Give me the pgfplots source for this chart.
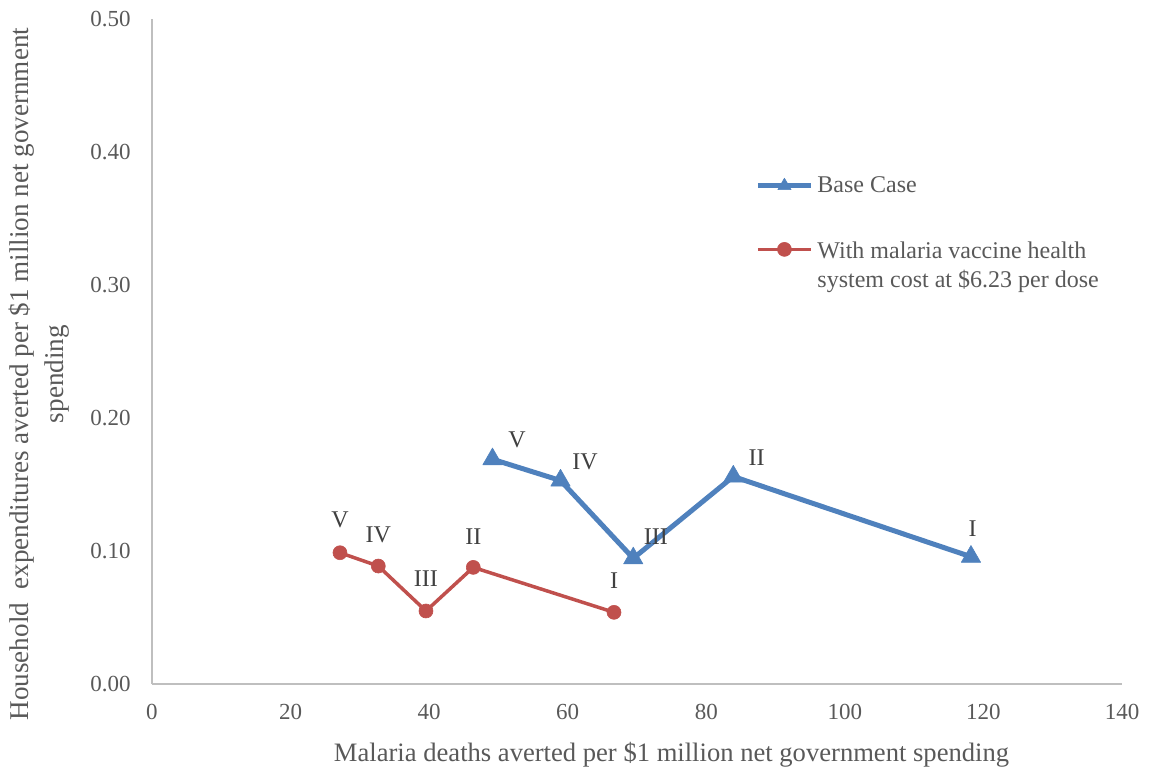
\documentclass[border=0pt]{standalone}
\usepackage{fontspec}
\setmainfont{Liberation Serif}
\usepackage{pgfplots}
\usepackage{pgfplotstable}
\pgfplotsset{compat=1.18}

\definecolor{basecol}{HTML}{4F81BD}
\definecolor{vaccol}{HTML}{C0504D}
\definecolor{axisgray}{HTML}{BFBFBF}
\definecolor{textgray}{HTML}{595959}
\definecolor{labelgray}{HTML}{404040}

\pgfplotsset{
  baseleg/.style={legend image code/.code={
    \draw[##1, mark repeat=2, mark phase=2, mark size=3.8pt]
      plot coordinates {(0pt,0pt) (13.25pt,0pt) (26.5pt,0pt)};}},
  vacleg/.style={legend image code/.code={
    \draw[##1, mark repeat=2, mark phase=2, yshift=8.55pt]
      plot coordinates {(0pt,0pt) (13.25pt,0pt) (26.5pt,0pt)};}},
}

% deaths averted, household expenditures averted, scenario label and label offsets (pt)
\pgfplotstableread{
x      y       lab  dx    dy
49.14  0.169   V    12.25 9.5
58.96  0.153   IV   12.25 9.5
69.46  0.0945  III  11.3  10.8
83.9   0.156   II   11.7  9.2
118.2  0.0957  I    0.8   13.9
}\basetab

\pgfplotstableread{
x      y       lab  dx    dy
27.13  0.0987  V    0     16.3
32.66  0.0887  IV   0     15.5
39.54  0.0549  III  0     16.3
46.37  0.0877  II   0     15.6
66.68  0.0539  I    0     15.8
}\vactab

\begin{document}
\begin{tikzpicture}
\begin{axis}[
  scale only axis,
  width=485pt, height=332.5pt,
  xmin=0, xmax=140, ymin=0, ymax=0.5,
  xtick={0,20,40,60,80,100,120,140},
  ytick={0,0.1,0.2,0.3,0.4,0.5},
  axis x line*=bottom, axis y line*=left,
  axis line style={draw=axisgray, line width=1pt},
  major tick length=0pt,
  /pgf/number format/assume math mode=true,
  ticklabel style={font=\fontsize{11.5}{13.8}\selectfont, text=textgray},
  yticklabel style={/pgf/number format/fixed, /pgf/number format/fixed zerofill,
    /pgf/number format/precision=2, xshift=-7.2pt},
  xticklabel style={yshift=-6.7pt},
  xlabel={Malaria deaths averted per \$1 million net government spending},
  xlabel style={at={(axis description cs:0.5356,-0.1068)}, anchor=center,
    font=\fontsize{13.3}{16}\selectfont, text=textgray},
  ylabel={Household\ \ expenditures averted per \$1 million net government\\spending},
  ylabel style={at={(axis description cs:-0.1165,0.466)}, anchor=center,
    align=center, font=\fontsize{13.55}{17.5}\selectfont, text=textgray},
  legend cell align=left,
  legend style={draw=none, fill=none, at={(axis description cs:0.6155,0.779)},
    anchor=north west, inner sep=3pt, column sep=0pt, row sep=19.45pt,
    font=\fontsize{12}{14.5}\selectfont, text=textgray},
  nodes near coords,
  point meta=explicit symbolic,
  visualization depends on={\thisrow{dx} \as \dx},
  visualization depends on={\thisrow{dy} \as \dy},
  nodes near coords style={anchor=center, xshift=\dx pt, yshift=\dy pt,
    font=\fontsize{12}{14.5}\selectfont, text=labelgray},
]
\addplot[color=basecol, line width=2.5pt, line join=round,
  mark=triangle*, mark size=5.6pt, mark options={solid, line width=0.3pt},
  baseleg]
  table[x=x, y=y, meta=lab] {\basetab};
\addlegendentry{Base Case}

\addplot[color=vaccol, line width=1.75pt, line join=round,
  mark=*, mark size=3.5pt, mark options={solid, line width=0.3pt},
  vacleg]
  table[x=x, y=y, meta=lab] {\vactab};
\addlegendentry[align=left]{With malaria vaccine health\\system cost at \$6.23 per dose}
\end{axis}
\path (-76pt,-45pt) rectangle (498.5pt,342pt);
\end{tikzpicture}
\end{document}
